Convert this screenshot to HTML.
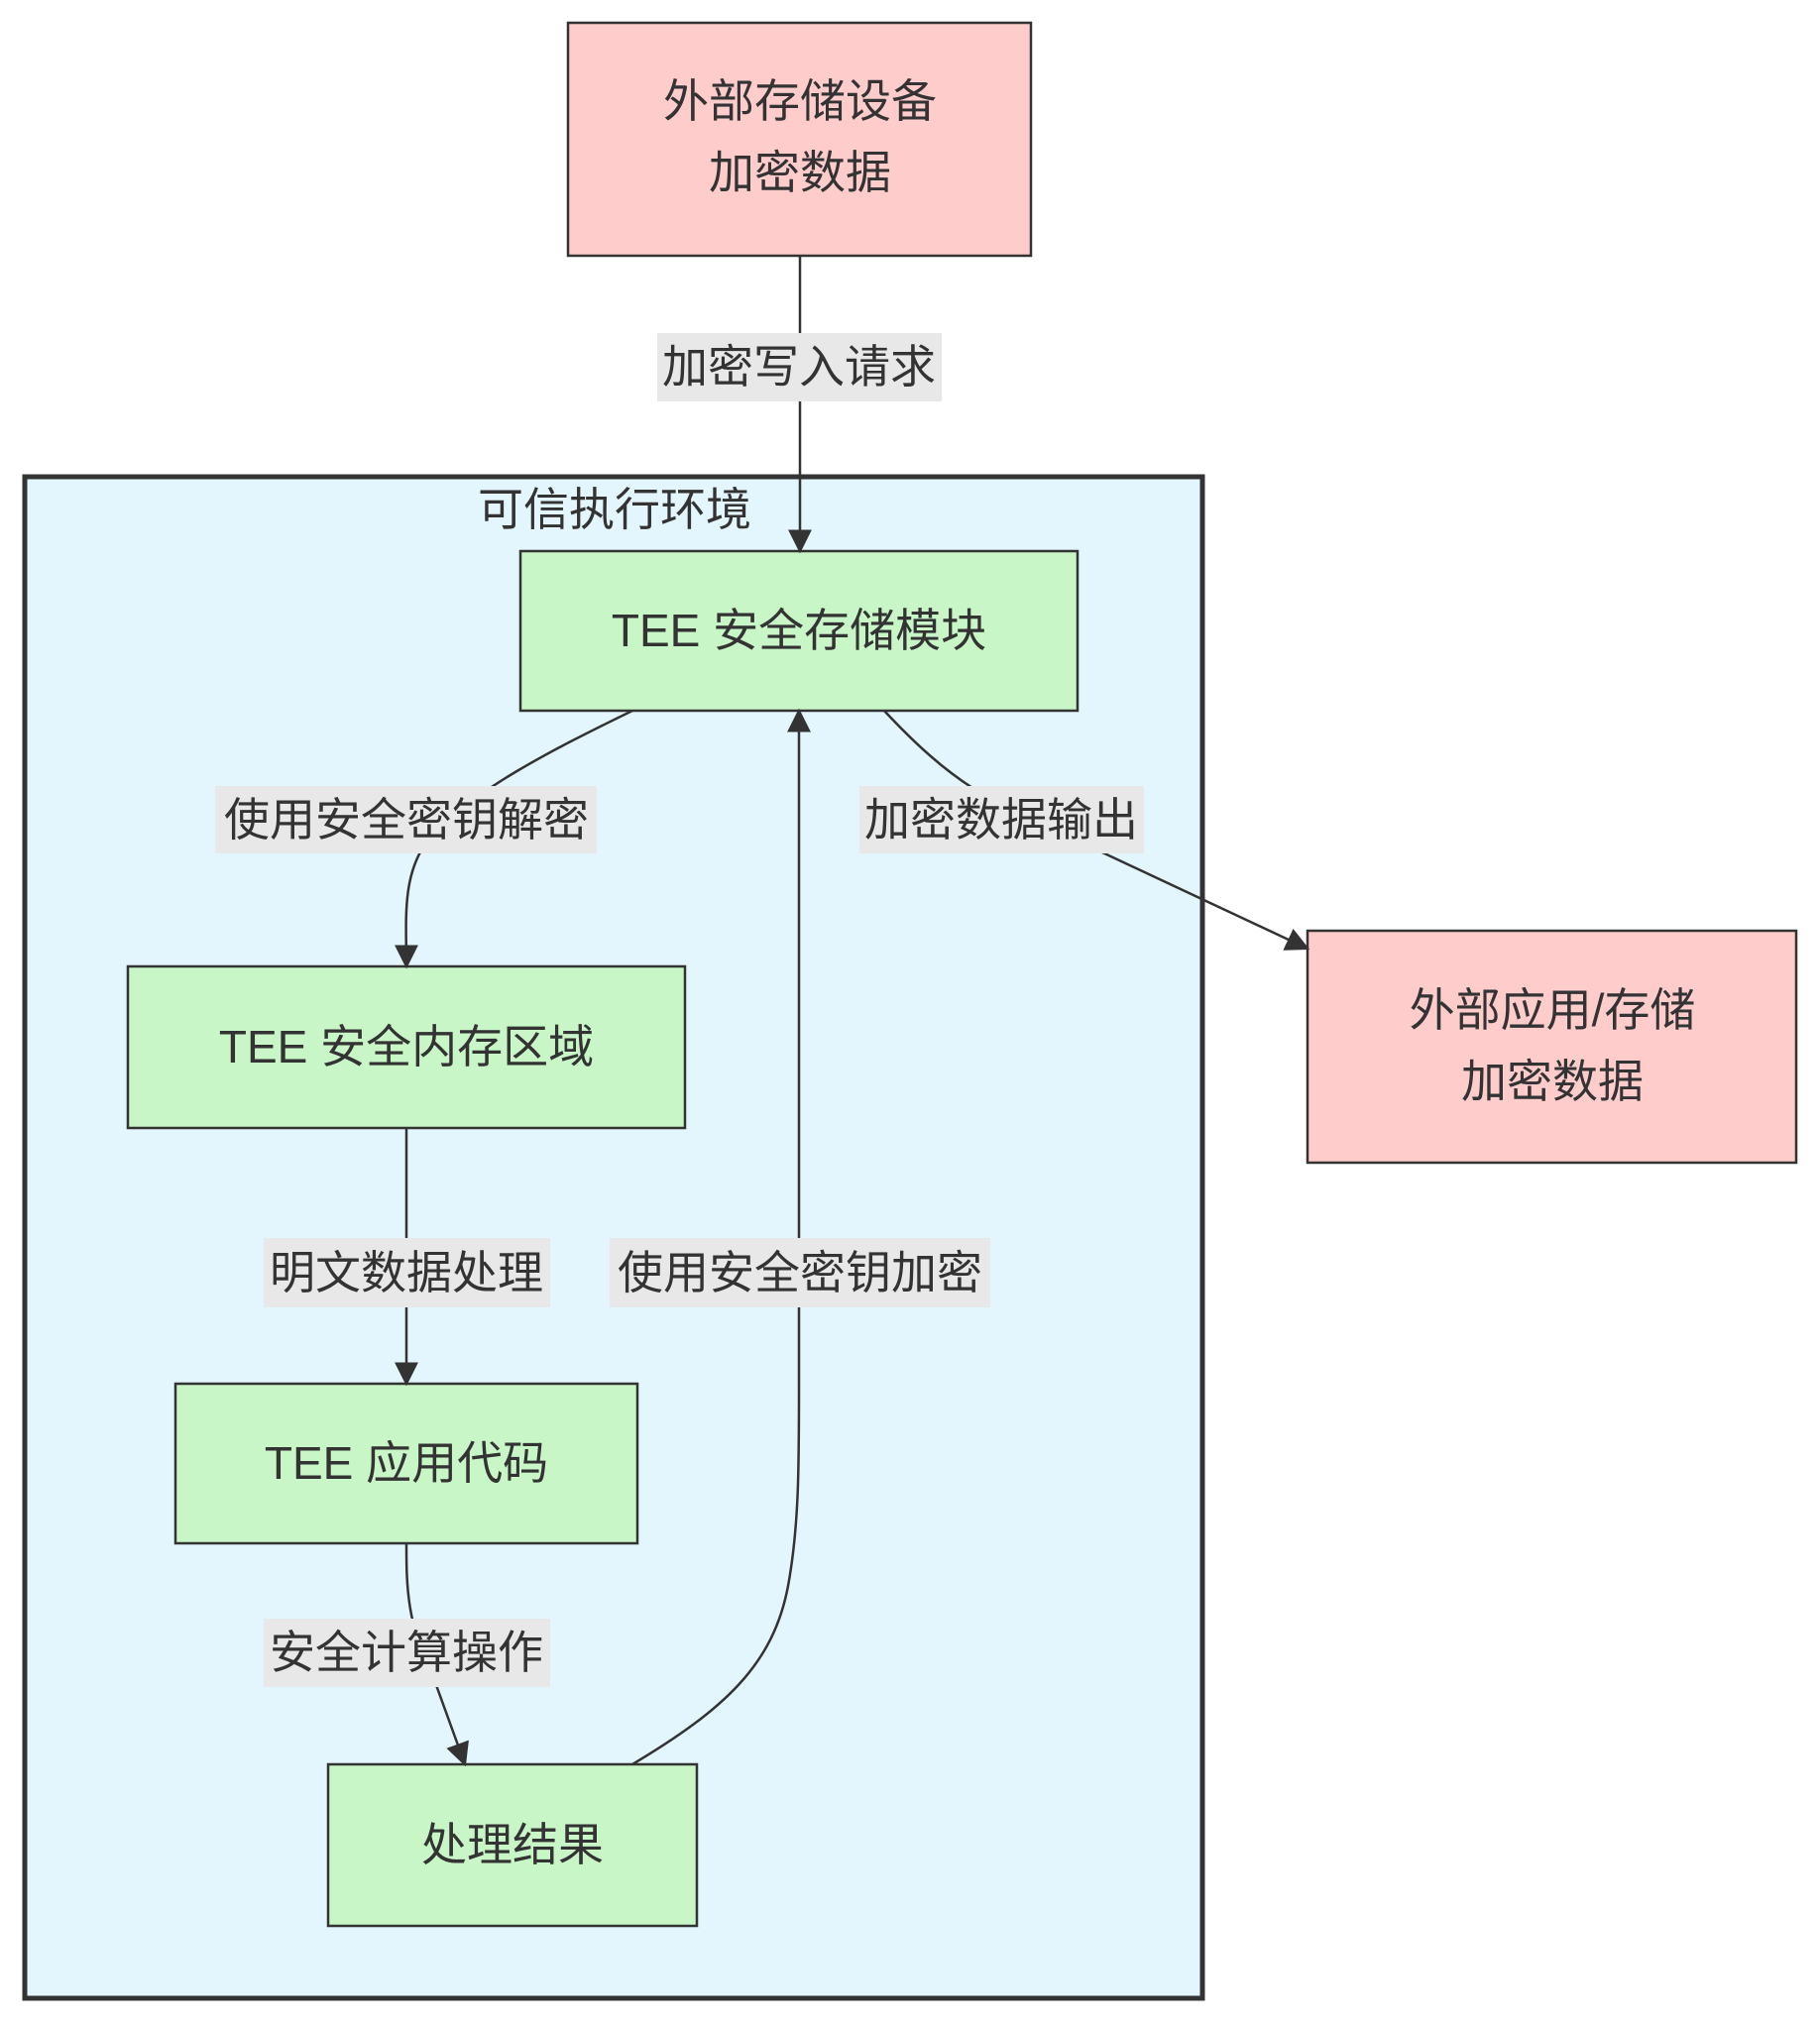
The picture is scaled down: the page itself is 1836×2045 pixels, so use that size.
<!DOCTYPE html>
<html><head><meta charset="utf-8"><style>
body{margin:0;background:#fff}
svg text{font-family:"Liberation Sans","Noto Sans CJK SC",sans-serif;fill:#333;font-size:46px;text-anchor:middle;dominant-baseline:central}
</style></head><body>
<svg width="1836" height="2040" viewBox="0 0 1836 2040" xmlns="http://www.w3.org/2000/svg">
<defs><marker id="a" markerWidth="12" markerHeight="12" refX="11" refY="6" orient="auto" markerUnits="userSpaceOnUse" viewBox="0 0 12 12"><path d="M0,0 L12,6 L0,12 z" fill="#333"/></marker>
<marker id="b" viewBox="0 0 10 10" refX="9" refY="5" markerWidth="24" markerHeight="24" markerUnits="userSpaceOnUse" orient="auto"><path d="M0,0 L10,5 L0,10 z" fill="#333"/></marker></defs>
<rect x="25" y="481" width="1188" height="1535" fill="#e3f5fd" stroke="#333" stroke-width="5"/>
<text x="620" y="514">可信执行环境</text>
<rect x="573" y="23" width="467" height="235" fill="#ffcccc" stroke="#333" stroke-width="2.5"/>
<text x="807" y="102">外部存储设备</text><text x="807" y="174">加密数据</text>
<rect x="1319" y="939" width="493" height="234" fill="#ffcccc" stroke="#333" stroke-width="2.5"/>
<text x="1566" y="1019">外部应用/存储</text><text x="1566" y="1091">加密数据</text>
<g fill="#c8f6c6" stroke="#333" stroke-width="2.5">
<rect x="525" y="556" width="562" height="161"/>
<rect x="129" y="975" width="562" height="163"/>
<rect x="177" y="1396" width="466" height="161"/>
<rect x="331" y="1780" width="372" height="163"/>
</g>
<text x="806" y="636">TEE 安全存储模块</text>
<text x="410" y="1056">TEE 安全内存区域</text>
<text x="410" y="1476">TEE 应用代码</text>
<text x="517" y="1861">处理结果</text>
<g fill="none" stroke="#333" stroke-width="2.5" marker-end="url(#b)">
<path d="M807,258 L807,556"/>
<path d="M638,717 C560,755 470,800 430,850 C405,885 410,930 410,975"/>
<path d="M892,717 C960,790 1000,810 1080,845 L1319,957"/>
<path d="M410,1138 L410,1396"/>
<path d="M410,1557 C410,1600 410,1640 440,1700 L469,1780"/>
<path d="M638,1780 C730,1725 780,1680 795,1600 C806,1540 806,1480 806,1400 L806,717"/>
</g>
<g fill="#e8e8e8">
<rect x="663" y="336" width="287" height="69"/>
<rect x="217" y="793" width="385" height="68"/>
<rect x="867" y="793" width="287" height="68"/>
<rect x="266" y="1249" width="289" height="70"/>
<rect x="615" y="1249" width="384" height="70"/>
<rect x="266" y="1633" width="289" height="69"/>
</g>
<text x="806" y="370">加密写入请求</text>
<text x="410" y="827">使用安全密钥解密</text>
<text x="1010" y="827">加密数据输出</text>
<text x="410" y="1284">明文数据处理</text>
<text x="807" y="1284">使用安全密钥加密</text>
<text x="410" y="1667">安全计算操作</text>
</svg>
</body></html>
